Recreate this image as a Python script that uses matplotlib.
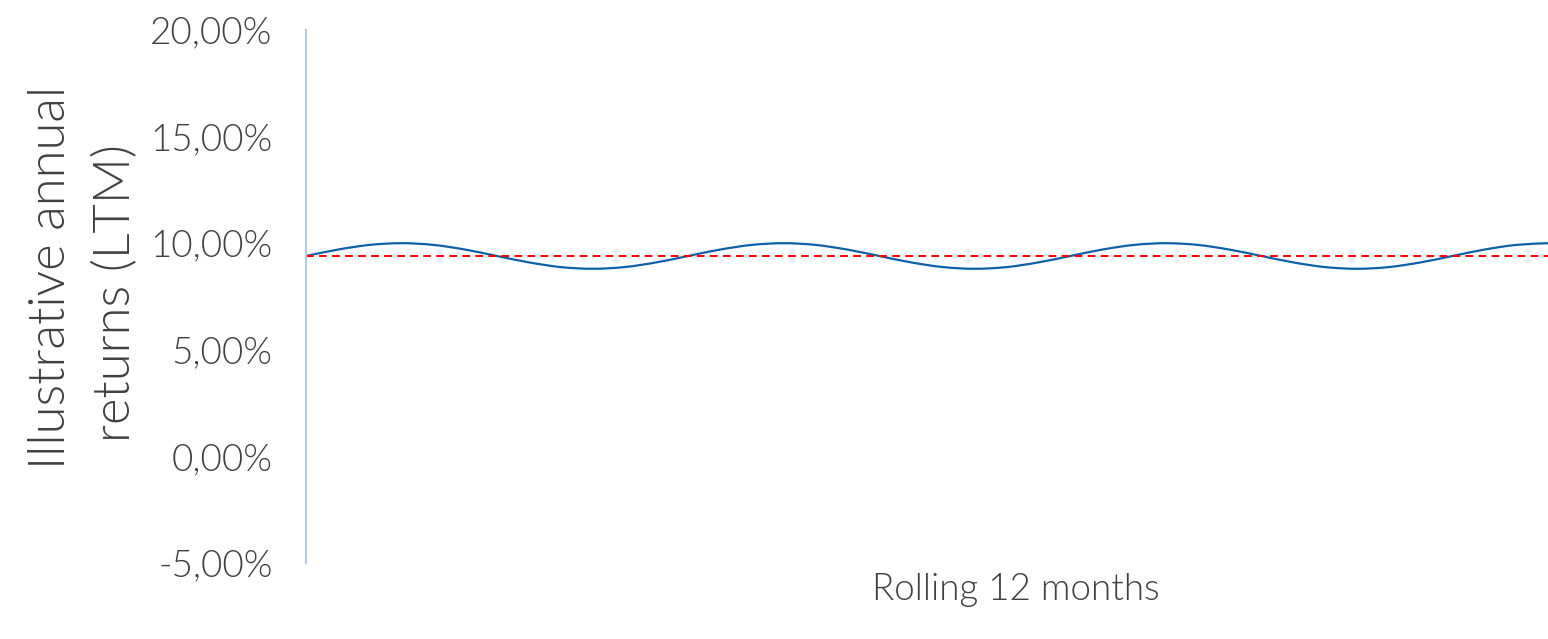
import matplotlib.pyplot as plt
from matplotlib.patches import PathPatch
from matplotlib.path import Path
from matplotlib.ticker import FuncFormatter

# monthly LTM returns (%), one point per month
months = list(range(40))
ltm_returns = [
    9.40, 9.70, 9.92, 10.00, 9.92, 9.70, 9.40, 9.10, 8.88, 8.80, 8.88, 9.10,
    9.40, 9.70, 9.92, 10.00, 9.92, 9.70, 9.40, 9.10, 8.88, 8.80, 8.88, 9.10,
    9.40, 9.70, 9.92, 10.00, 9.92, 9.70, 9.40, 9.10, 8.88, 8.80, 8.88, 9.10,
    9.40, 9.70, 9.92, 10.00,
]
average_return = 9.40
y_ticks = [-5, 0, 5, 10, 15, 20]

_TEXT = "#404040"
_BLUE = "#1060A8"
_AXIS = "#B4C7E7"


def smooth_path(xs, ys, tension=1 / 6):
    """Catmull-Rom style bezier through every point (like a spreadsheet 'smoothed line')."""
    verts = [(xs[0], ys[0])]
    codes = [Path.MOVETO]
    n = len(xs)
    for i in range(n - 1):
        x0, y0 = (xs[i - 1], ys[i - 1]) if i > 0 else (xs[i], ys[i])
        x1, y1 = xs[i], ys[i]
        x2, y2 = xs[i + 1], ys[i + 1]
        x3, y3 = (xs[i + 2], ys[i + 2]) if i + 2 < n else (x2, y2)
        c1 = (x1 + (x2 - x0) * tension, y1 + (y2 - y0) * tension)
        c2 = (x2 - (x3 - x1) * tension, y2 - (y3 - y1) * tension)
        verts += [c1, c2, (x2, y2)]
        codes += [Path.CURVE4] * 3
    return Path(verts, codes)


plt.rcParams["font.family"] = ["Lato", "DejaVu Sans"]

fig = plt.figure(figsize=(15.48, 6.39), dpi=100)
ax = fig.add_axes([306 / 1548, 1 - 563 / 639, 1 - 306 / 1548, (563 - 30) / 639])

ax.add_patch(PathPatch(smooth_path(months, ltm_returns), facecolor="none",
                       edgecolor=_BLUE, linewidth=1.6, capstyle="butt"))
ax.plot([months[0], months[-1]], [average_return, average_return],
        color="#FF0000", linewidth=1.4, linestyle=(0, (4, 2.7)))

ax.set_xlim(months[0], months[-1])
ax.set_ylim(y_ticks[0], y_ticks[-1])
ax.set_yticks(y_ticks)
ax.yaxis.set_major_formatter(FuncFormatter(lambda v, _: f"{v:.2f}%".replace(".", ",")))
ax.set_xticks([])
ax.tick_params(axis="y", length=0, pad=24, labelsize=26.5, labelcolor=_TEXT)
for lbl in ax.get_yticklabels():
    lbl.set_fontweight(300)

for side in ["top", "right", "bottom"]:
    ax.spines[side].set_visible(False)
ax.spines["left"].set_color(_AXIS)
ax.spines["left"].set_linewidth(1.5)

# two-line axis title, each line centred on its own
title_kw = dict(rotation=90, rotation_mode="anchor", ha="center", va="baseline",
                fontsize=36.5, fontweight=300, color=_TEXT)
fig.text(65 / 1548, 1 - 277 / 639, "Illustrative annual", **title_kw)
fig.text(130 / 1548, 1 - 293 / 639, "returns (LTM)", **title_kw)
fig.text(1016 / 1548, 1 - 590 / 639, "Rolling 12 months", ha="center", va="center",
         fontsize=26.5, fontweight=300, color=_TEXT)

fig.savefig("out.png", dpi=100)
